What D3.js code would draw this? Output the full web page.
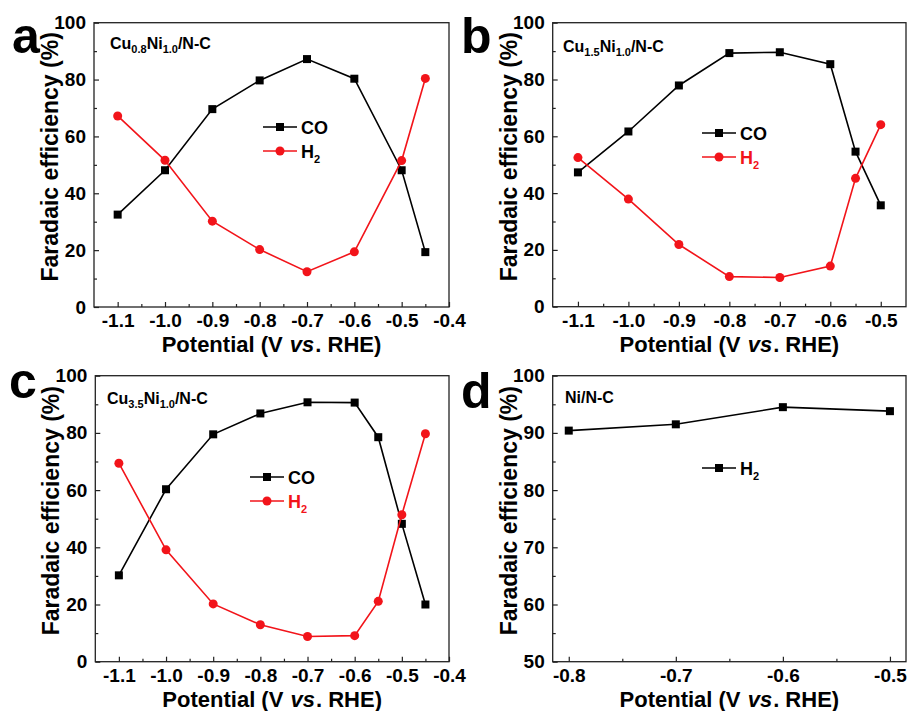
<!DOCTYPE html>
<html>
<head>
<meta charset="utf-8" />
<title>Faradaic efficiency vs potential</title>
<style>
body { margin: 0; background: #fff; }
svg text { font-family: "Liberation Sans", Arial, sans-serif; font-weight: bold; fill: #000; }
</style>
</head>
<body>
<div id="chart"></div>
<script src="https://cdnjs.cloudflare.com/ajax/libs/d3/7.8.5/d3.min.js"></script>
<script>
!(function(){
    "use strict"

    // potentials (V vs. RHE)
    var potA = [-1.1, -1.0, -0.9, -0.8, -0.7, -0.6, -0.5, -0.45]
    var coA  = [32.5, 48.1, 69.6, 79.7, 87.2, 80.3, 48.1, 19.3]
    var h2A  = [67.2, 51.6, 30.2, 20.2, 12.4, 19.4, 51.5, 80.4]

    var potB = [-1.1, -1.0, -0.9, -0.8, -0.7, -0.6, -0.55, -0.5]
    var coB  = [47.3, 61.7, 77.9, 89.3, 89.6, 85.4, 54.6, 35.7]
    var h2B  = [52.5, 37.9, 21.9, 10.6, 10.3, 14.3, 45.2, 64.1]

    var potC = [-1.1, -1.0, -0.9, -0.8, -0.7, -0.6, -0.55, -0.5, -0.45]
    var coC  = [30.2, 60.3, 79.5, 86.8, 90.7, 90.6, 78.5, 48.2, 20.0]
    var h2C  = [69.4, 39.1, 20.2, 12.9, 8.8, 9.1, 21.1, 51.4, 79.7]

    var potD = [-0.8, -0.7, -0.6, -0.5]
    var h2D  = [90.4, 91.5, 94.5, 93.8]

    var xTicksAC = [-1.1, -1.0, -0.9, -0.8, -0.7, -0.6, -0.5, -0.4]
    var xTicksB  = [-1.1, -1.0, -0.9, -0.8, -0.7, -0.6, -0.5]
    var xTicksD  = [-0.8, -0.7, -0.6, -0.5]
    var yTicksABC = [0, 20, 40, 60, 80, 100]
    var yTicksD   = [50, 60, 70, 80, 90, 100]

    var black = "#000", red = "#f2141a"

    var panels = [
        { letter: "a", lx: 12, ly: 53, box: [94, 22.7, 449, 307],
          xdom: [-1.15, -0.4], ydom: [0, 100], xt: xTicksAC, yt: yTicksABC, yMinorStep: 10,
          title: [["Cu", ""], ["0.8", "sub"], ["Ni", ""], ["1.0", "sub"], ["/N-C", ""]], tx: 110, ty: 53,
          series: [
            { name: "CO", x: potA, y: coA, color: black, shape: "square", textColor: black },
            { name: "H", sub: "2", x: potA, y: h2A, color: red, shape: "circle", textColor: black }
          ],
          leg: [263, 127] },
        { letter: "b", lx: 461, ly: 53, box: [552.7, 22.7, 906, 306.7],
          xdom: [-1.15, -0.45], ydom: [0, 100], xt: xTicksB, yt: yTicksABC, yMinorStep: 10,
          title: [["Cu", ""], ["1.5", "sub"], ["Ni", ""], ["1.0", "sub"], ["/N-C", ""]], tx: 563, ty: 56,
          series: [
            { name: "CO", x: potB, y: coB, color: black, shape: "square", textColor: black },
            { name: "H", sub: "2", x: potB, y: h2B, color: red, shape: "circle", textColor: red }
          ],
          leg: [702, 133] },
        { letter: "c", lx: 9, ly: 398, box: [95.3, 375.7, 449, 661.7],
          xdom: [-1.15, -0.4], ydom: [0, 100], xt: xTicksAC, yt: yTicksABC, yMinorStep: 10,
          title: [["Cu", ""], ["3.5", "sub"], ["Ni", ""], ["1.0", "sub"], ["/N-C", ""]], tx: 107, ty: 408,
          series: [
            { name: "CO", x: potC, y: coC, color: black, shape: "square", textColor: black },
            { name: "H", sub: "2", x: potC, y: h2C, color: red, shape: "circle", textColor: red }
          ],
          leg: [250, 477] },
        { letter: "d", lx: 461, ly: 408, box: [552.7, 375.7, 906, 661.7],
          xdom: [-0.815, -0.485], ydom: [50, 100], xt: xTicksD, yt: yTicksD, yMinorStep: 5,
          title: [["Ni/N-C", ""]], tx: 565, ty: 407,
          series: [
            { name: "H", sub: "2", x: potD, y: h2D, color: black, shape: "square", textColor: black }
          ],
          leg: [702, 468] }
    ]

    var svg = d3.select("#chart").append("svg")
        .attr("width", 909).attr("height", 711)

    panels.forEach(drawPanel)

    function drawPanel(p) {
        var x0 = p.box[0], y0 = p.box[1], x1 = p.box[2], y1 = p.box[3]
        var x = d3.scaleLinear().domain(p.xdom).range([x0, x1])
        var y = d3.scaleLinear().domain(p.ydom).range([y1, y0])
        var g = svg.append("g")

        // minor ticks (midpoints)
        var xMinor = p.xt.slice(0, -1).map(function(v, i) { return (v + p.xt[i + 1]) / 2 })
            .filter(function(v) { return v > p.xdom[0] && v < p.xdom[1] })
        var yMinor = d3.range(p.ydom[0] + p.yMinorStep, p.ydom[1], p.yMinorStep * 2)

        g.append("g").attr("transform", "translate(0," + y1 + ")")
            .call(d3.axisBottom(x).tickValues(xMinor).tickSizeInner(-3).tickSizeOuter(0).tickFormat(""))
        g.append("g").attr("transform", "translate(" + x0 + ",0)")
            .call(d3.axisLeft(y).tickValues(yMinor).tickSizeInner(-3).tickSizeOuter(0).tickFormat(""))

        var xAxis = g.append("g").attr("transform", "translate(0," + y1 + ")")
            .call(d3.axisBottom(x).tickValues(p.xt.filter(function(v) { return v >= p.xdom[0] - 1e-9 && v <= p.xdom[1] + 1e-9 }))
                .tickSizeInner(-5).tickSizeOuter(0).tickPadding(7)
                .tickFormat(function(d) { return d.toFixed(1) }))
        var yAxis = g.append("g").attr("transform", "translate(" + x0 + ",0)")
            .call(d3.axisLeft(y).tickValues(p.yt).tickSizeInner(-5).tickSizeOuter(0).tickPadding(8)
                .tickFormat(d3.format("d")))

        ;[xAxis, yAxis].forEach(function(a) {
            a.selectAll("text").style("font-size", "19px").attr("font-family", null)
        })
        g.selectAll(".tick line").attr("stroke", "#222").attr("stroke-width", 1.2)
        g.selectAll(".domain").remove()

        // frame
        g.append("rect").attr("x", x0).attr("y", y0).attr("width", x1 - x0).attr("height", y1 - y0)
            .attr("fill", "none").attr("stroke", "#222").attr("stroke-width", 1.3)

        // axis titles
        var xt = g.append("text").attr("x", (x0 + x1) / 2).attr("y", y1 + 45)
            .attr("text-anchor", "middle").style("font-size", "22px")
        xt.append("tspan").text("Potential (V ")
        xt.append("tspan").attr("dx", 1).style("font-style", "italic").text("vs")
        xt.append("tspan").attr("dx", 1).text(". RHE)")

        g.append("text")
            .attr("transform", "translate(" + (x0 - 36) + "," + ((y0 + y1) / 2 - 8) + ") rotate(-90)")
            .attr("text-anchor", "middle").style("font-size", "23px")
            .text("Faradaic efficiency (%)")

        // panel letter
        g.append("text").attr("x", p.lx).attr("y", p.ly).style("font-size", "50px").text(p.letter)

        // inner title
        var tt = g.append("text").attr("x", p.tx).attr("y", p.ty).style("font-size", "16px")
        p.title.forEach(function(part) {
            if (part[1] === "sub") {
                tt.append("tspan").attr("dy", 4).style("font-size", "11px").text(part[0])
            } else {
                tt.append("tspan").attr("dy", tt.selectAll("tspan").size() ? -4 : 0).text(part[0])
            }
        })

        // series
        var line = d3.line().x(function(d) { return x(d[0]) }).y(function(d) { return y(d[1]) })
        p.series.forEach(function(s) {
            var pts = s.x.map(function(v, i) { return [v, s.y[i]] })
            g.append("path").datum(pts).attr("d", line)
                .attr("fill", "none").attr("stroke", s.color).attr("stroke-width", 1.6)
            drawMarkers(g, pts.map(function(d) { return [x(d[0]), y(d[1])] }), s)
        })

        // legend
        p.series.forEach(function(s, i) {
            var lx = p.leg[0], ly = p.leg[1] + i * 24
            g.append("line").attr("x1", lx).attr("x2", lx + 34).attr("y1", ly).attr("y2", ly)
                .attr("stroke", s.color).attr("stroke-width", 1.6)
            drawMarkers(g, [[lx + 17, ly]], s)
            var t = g.append("text").attr("x", lx + 38).attr("y", ly + 6.5)
                .style("font-size", "18px").style("fill", s.textColor)
            t.append("tspan").text(s.name)
            if (s.sub) {
                t.append("tspan").attr("dy", 5).style("font-size", "11px").text(s.sub)
            }
        })
    }

    function drawMarkers(g, pts, s) {
        if (s.shape === "square") {
            g.selectAll(null).data(pts).enter().append("rect")
                .attr("x", function(d) { return d[0] - 4 }).attr("y", function(d) { return d[1] - 4 })
                .attr("width", 8).attr("height", 8).attr("fill", s.color)
        } else {
            g.selectAll(null).data(pts).enter().append("circle")
                .attr("cx", function(d) { return d[0] }).attr("cy", function(d) { return d[1] })
                .attr("r", 4.5).attr("fill", s.color)
        }
    }
}());
</script>
</body>
</html>
